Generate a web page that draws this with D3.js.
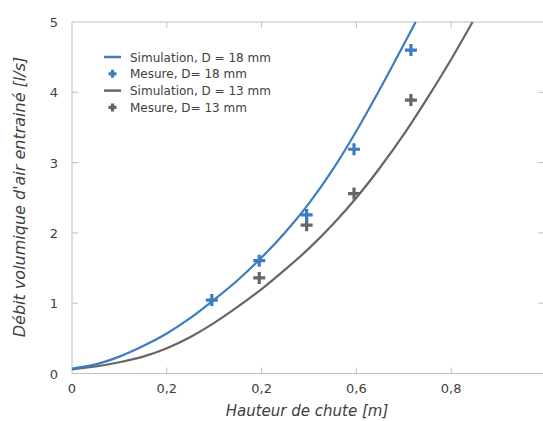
<!DOCTYPE html>
<html>
<head>
<meta charset="utf-8">
<script src="https://cdn.jsdelivr.net/npm/d3@7"></script>
<style>
  body { margin: 0; background: #fff; }
  text { font-family: "DejaVu Sans", sans-serif; fill: #404040; }
</style>
</head>
<body>
<svg id="chart" width="543" height="421"></svg>
<script>
// data
var xTicks = [0, 0.2, 0.4, 0.6, 0.8];
var xTickLabels = ["0", "0,2", "0,2", "0,6", "0,8"];
var yTicks = [0, 1, 2, 3, 4, 5];

var sim18 = [[0,0.07],[0.05,0.13],[0.1,0.24],[0.15,0.39],[0.2,0.57],[0.25,0.79],[0.3,1.05],
  [0.35,1.33],[0.4,1.65],[0.45,2.01],[0.5,2.42],[0.55,2.9],[0.6,3.45],[0.65,4.05],[0.7,4.68],[0.725,5.0]];
var sim13 = [[0,0.06],[0.05,0.1],[0.1,0.16],[0.15,0.24],[0.2,0.36],[0.25,0.52],[0.3,0.72],
  [0.35,0.95],[0.4,1.2],[0.45,1.48],[0.5,1.78],[0.55,2.12],[0.6,2.5],[0.65,2.93],[0.7,3.4],
  [0.75,3.92],[0.8,4.47],[0.845,5.0]];
var mes18 = [[0.295,1.045],[0.395,1.605],[0.495,2.255],[0.595,3.19],[0.715,4.6]];
var mes13 = [[0.395,1.36],[0.495,2.11],[0.595,2.56],[0.715,3.89]];

var blue = "#3b7cc2", grey = "#666666", axisCol = "#c0c0c0";

var svg = d3.select("#chart");
var x = d3.scaleLinear().domain([0, 1]).range([72, 546]);
var y = d3.scaleLinear().domain([0, 5]).range([373.5, 22]);

// frame
svg.append("line").attr("x1", x(0)).attr("x2", 543).attr("y1", y(5)).attr("y2", y(5)).attr("stroke", axisCol);
svg.append("line").attr("x1", x(0)).attr("x2", 543).attr("y1", y(0)).attr("y2", y(0)).attr("stroke", axisCol);
svg.append("line").attr("x1", x(0)).attr("x2", x(0)).attr("y1", y(0)).attr("y2", y(5)).attr("stroke", axisCol);

// inner ticks
xTicks.slice(1).forEach(function (t) {
  svg.append("line").attr("x1", x(t)).attr("x2", x(t)).attr("y1", y(0)).attr("y2", y(0) - 6).attr("stroke", axisCol);
  svg.append("line").attr("x1", x(t)).attr("x2", x(t)).attr("y1", y(5)).attr("y2", y(5) + 6).attr("stroke", axisCol);
});
yTicks.slice(1, -1).forEach(function (t) {
  svg.append("line").attr("x1", x(0)).attr("x2", x(0) + 6).attr("y1", y(t)).attr("y2", y(t)).attr("stroke", axisCol);
  svg.append("line").attr("x1", 538).attr("x2", 543).attr("y1", y(t)).attr("y2", y(t)).attr("stroke", axisCol);
});

// tick labels
svg.selectAll(".xl").data(xTicks).enter().append("text")
  .attr("x", function (d) { return x(d); }).attr("y", 393)
  .attr("text-anchor", "middle").attr("font-size", 13)
  .text(function (d, i) { return xTickLabels[i]; });
svg.selectAll(".yl").data(yTicks).enter().append("text")
  .attr("x", 58).attr("y", function (d) { return y(d) + 5; })
  .attr("text-anchor", "end").attr("font-size", 13)
  .text(function (d) { return d; });

// axis titles
svg.append("text").attr("x", 307).attr("y", 416).attr("text-anchor", "middle")
  .attr("font-size", 15).attr("font-style", "italic").text("Hauteur de chute [m]");
svg.append("text").attr("transform", "translate(25,197) rotate(-90)").attr("text-anchor", "middle")
  .attr("font-size", 16).attr("font-style", "italic").text("Débit volumique d'air entrainé [l/s]");

// curves
var line = d3.line().x(function (d) { return x(d[0]); }).y(function (d) { return y(d[1]); }).curve(d3.curveMonotoneX);
svg.append("path").datum(sim13).attr("d", line).attr("fill", "none").attr("stroke", grey).attr("stroke-width", 2.2);
svg.append("path").datum(sim18).attr("d", line).attr("fill", "none").attr("stroke", blue).attr("stroke-width", 2.2);

function plus(g, cx, cy, col, s) {
  g.append("path").attr("d", "M" + (cx - s) + "," + cy + "H" + (cx + s) + "M" + cx + "," + (cy - s) + "V" + (cy + s))
    .attr("stroke", col).attr("stroke-width", 3.2).attr("fill", "none");
}
mes13.forEach(function (d) { plus(svg, x(d[0]), y(d[1]), grey, 6); });
mes18.forEach(function (d) { plus(svg, x(d[0]), y(d[1]), blue, 6); });

// legend
var legend = [
  {label: "Simulation, D = 18 mm", col: blue, type: "line"},
  {label: "Mesure, D= 18 mm", col: blue, type: "plus"},
  {label: "Simulation, D = 13 mm", col: grey, type: "line"},
  {label: "Mesure, D= 13 mm", col: grey, type: "plus"}
];
legend.forEach(function (l, i) {
  var ly = 57 + i * 16.8;
  if (l.type === "line") {
    svg.append("line").attr("x1", 104).attr("x2", 121).attr("y1", ly).attr("y2", ly).attr("stroke", l.col).attr("stroke-width", 2.5);
  } else {
    plus(svg, 112.5, ly, l.col, 4);
  }
  svg.append("text").attr("x", 130).attr("y", ly + 4.5).attr("font-size", 12).text(l.label);
});
</script>
</body>
</html>
